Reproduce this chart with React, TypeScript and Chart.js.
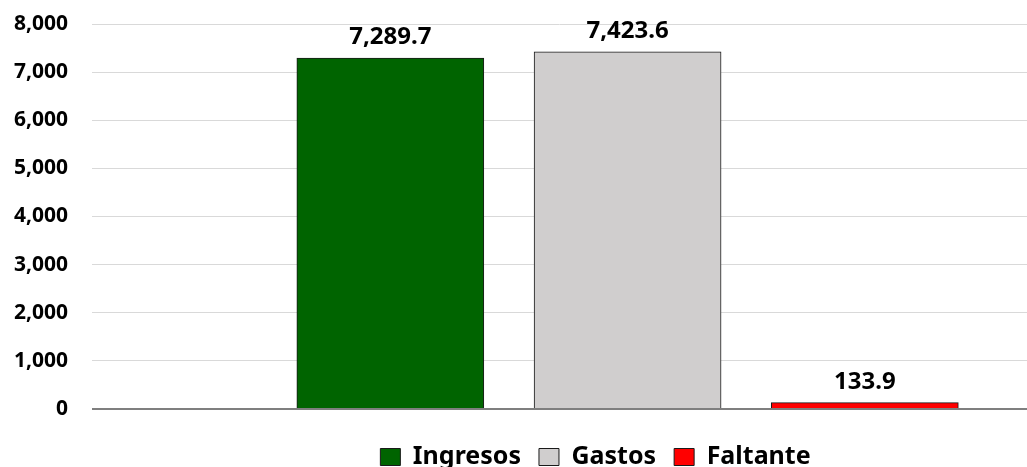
import React, { useEffect, useRef } from "react";
import { Chart, registerables } from "chart.js";

Chart.register(...registerables);

const categories = ["Ingresos", "Gastos", "Faltante"];
const values = [7289.7, 7423.6, 133.9];
const colors = ["#006400", "#d0cece", "#ff0000"];
const yTicks = [0, 1000, 2000, 3000, 4000, 5000, 6000, 7000, 8000];

const FONT = "'Noto Sans'";

const valueLabels = {
  id: "valueLabels",
  afterDatasetsDraw(chart: any) {
    const ctx = chart.ctx;
    ctx.save();
    ctx.font = `bold 24px ${FONT}`;
    ctx.fillStyle = "#000";
    ctx.textAlign = "center";
    ctx.textBaseline = "alphabetic";
    chart.data.datasets.forEach((ds: any, i: number) => {
      const meta = chart.getDatasetMeta(i);
      meta.data.forEach((el: any, j: number) => {
        const v = ds.data[j].y;
        const txt = v.toLocaleString("en-US", { minimumFractionDigits: 1, maximumFractionDigits: 1 });
        ctx.fillText(txt, el.x, el.y - 14);
      });
    });
    ctx.restore();
  },
};

// shift the legend row so it sits where it does in the reference
const legendShift = {
  id: "legendShift",
  afterLayout(chart: any) {
    if (chart.legend) {
      chart.legend.left += 164;
    }
  },
};

export default function App() {
  const ref = useRef<HTMLCanvasElement>(null);
  useEffect(() => {
    document.body.style.margin = "0";
    const chart = new Chart(ref.current!, {
      type: "bar",
      data: {
        datasets: categories.map((c, i) => ({
          label: c,
          data: [{ x: i + 1, y: values[i] }],
          backgroundColor: colors[i],
          borderColor: "#1a1a1a",
          borderWidth: 1,
          barThickness: 187,
          grouped: false,
        })),
      },
      options: {
        animation: false,
        responsive: true,
        maintainAspectRatio: false,
        layout: { padding: { top: 24, right: 0, left: 0, bottom: -12.5 } },
        plugins: {
          tooltip: { enabled: false },
          legend: {
            position: "bottom",
            labels: {
              boxWidth: 20,
              boxHeight: 17,
              padding: 18,
              color: "#000",
              font: { family: FONT, size: 25, weight: "bold" },
            },
          },
        },
        scales: {
          x: {
            type: "linear",
            min: -0.2574,
            max: 3.6835,
            offset: false,
            ticks: { display: false },
            grid: { display: false, drawTicks: false },
            border: { display: false },
            afterFit: (s: any) => {
              s.height = 17.5;
            },
          },
          y: {
            min: 0,
            max: 8000,
            afterBuildTicks: (s: any) => {
              s.ticks = yTicks.map((v) => ({ value: v }));
            },
            afterFit: (s: any) => {
              s.width = 92;
            },
            ticks: {
              padding: 3,
              color: "#000",
              font: { family: FONT, size: 21, weight: "bold" },
              callback: (v: any) => Number(v).toLocaleString("en-US"),
            },
            grid: {
              drawTicks: true,
              tickLength: 21,
              tickColor: "rgba(0,0,0,0)",
              color: (c: any) => (c.tick && c.tick.value === 0 ? "#7f7f7f" : "#d9d9d9"),
              lineWidth: (c: any) => (c.tick && c.tick.value === 0 ? 2 : 1),
            },
            border: { display: false },
          },
        },
      },
      plugins: [valueLabels, legendShift],
    });
    return () => chart.destroy();
  }, []);
  return (
    <div style={{ width: 1027, height: 467, position: "relative" }}>
      <canvas ref={ref} />
    </div>
  );
}
